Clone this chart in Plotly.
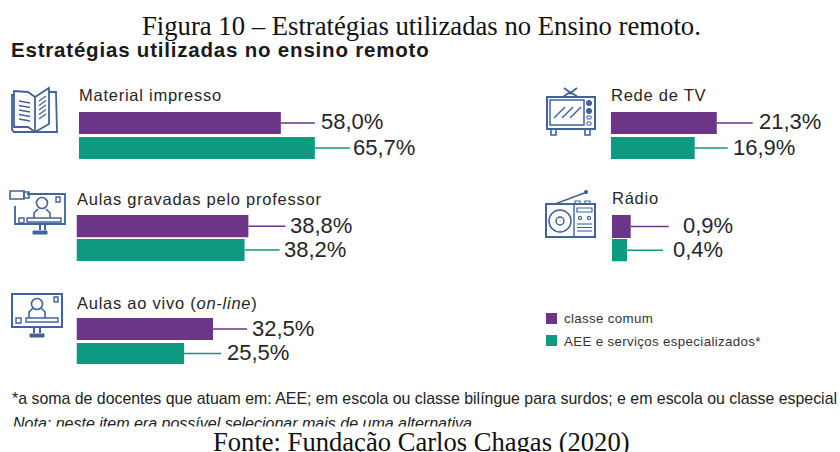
import plotly.graph_objects as go

W, H = 840, 452

# Data
categories = ["Material impresso", "Aulas gravadas pelo professor", "Aulas ao vivo (<i>on-line</i>)", "Rede de TV", "Rádio"]
classe_comum = [58.0, 38.8, 32.5, 21.3, 0.9]
aee = [65.7, 38.2, 25.5, 16.9, 0.4]
series_names = ["classe comum", "AEE e serviços especializados*"]

PURPLE = "#6C3587"
TEAL = "#0E9A80"
ICON = "#41629A"
INK = "#262626"
SANS = "Liberation Sans"
SERIF = "Liberation Serif"

# The source draws each bar to its own scale, so each bar gets its own axis:
# panel layout = left edge, label y, top of purple bar, top of teal bar, bar heights
panels = [
    dict(left=79, label_y=95, tops=(112, 137), heights=(22, 22)),
    dict(left=76.5, label_y=199, tops=(215, 239), heights=(22.5, 22)),
    dict(left=76.5, label_y=303, tops=(318, 343), heights=(22, 21)),
    dict(left=610.7, label_y=95, tops=(112, 137), heights=(22, 22)),
    dict(left=612, label_y=198, tops=(215, 239), heights=(23, 22.5)),
]
# px per percentage point for (purple, teal) in every panel
scales = [(3.48, 3.59), (4.43, 4.40), (4.20, 4.22), (4.98, 4.97), (20.8, 37.5)]
# leader length and gap to the value label, in px
leaders = [((34, 6), (35, 3)), ((37, 5), (35, 4)), ((34, 5), (37, 6)), ((36, 6), (33, 5)), ((38, 14), (36, 10))]


def px(x):
    return x / W


def py(y):
    return 1 - y / H


shapes = []
annotations = []
traces = []


def text(x, y, s, size, family=SANS, color=INK, anchor="left", spacing=None):
    if spacing:
        s = f'<span style="letter-spacing:{spacing}px">{s}</span>'
    annotations.append(dict(x=px(x), y=py(y), xref="paper", yref="paper", text=s, showarrow=False,
                            xanchor=anchor, yanchor="middle", align=anchor, xshift=0, borderpad=0,
                            font=dict(family=family, size=size, color=color)))


def path(points, close=False, fill=None, width=1.6, color=ICON):
    d = "M" + " L".join(f"{px(x):.5f},{py(y):.5f}" for x, y in points) + (" Z" if close else "")
    shapes.append(dict(type="path", path=d, xref="paper", yref="paper", fillcolor=fill or "rgba(0,0,0,0)",
                       line=dict(color=color, width=width)))


def rect(x0, y0, x1, y1, fill=None, width=1.6, color=ICON):
    path([(x0, y0), (x1, y0), (x1, y1), (x0, y1)], True, fill, width, color)


def circle(cx, cy, r, fill=None, width=1.6):
    shapes.append(dict(type="circle", xref="paper", yref="paper", x0=px(cx - r), x1=px(cx + r),
                       y0=py(cy + r), y1=py(cy - r), fillcolor=fill or "rgba(0,0,0,0)",
                       line=dict(color=ICON, width=width)))


# Bars, leaders and value labels
n = 0
axes = {}
for i, (cat, p) in enumerate(zip(categories, panels)):
    text(p["left"] - 1, p["label_y"], cat, 16.5, spacing=0.75)
    span = 200 if p["left"] > 500 else 300
    for j, (vals, color) in enumerate([(classe_comum, PURPLE), (aee, TEAL)]):
        n += 1
        value = vals[i]
        scale = scales[i][j]
        suffix = "" if n == 1 else str(n)
        xname, yname = f"x{suffix}", f"y{suffix}"
        axes[f"xaxis{suffix}"] = dict(domain=[px(p["left"]), px(p["left"] + span)], range=[0, span / scale],
                                      visible=False, fixedrange=True, anchor=yname)
        axes[f"yaxis{suffix}"] = dict(domain=[py(p["tops"][j] + p["heights"][j]), py(p["tops"][j])],
                                      visible=False, fixedrange=True, anchor=xname)
        traces.append(go.Bar(x=[value], y=[cat], orientation="h", xaxis=xname, yaxis=yname, width=1,
                             marker=dict(color=color, line=dict(width=0)), name=series_names[j], showlegend=False))
        length, gap = leaders[i][j]
        shapes.append(dict(type="line", xref=xname, yref="paper", xsizemode="pixel", xanchor=value, x0=0, x1=length,
                           y0=py(p["tops"][j] + p["heights"][j] / 2), y1=py(p["tops"][j] + p["heights"][j] / 2),
                           line=dict(color=color, width=1.3)))
        annotations.append(dict(x=value, xref=xname, y=0.5, yref=f"{yname} domain", xshift=length + gap - 2, yshift=1,
                                text=f"{value:.1f}%".replace(".", ","), showarrow=False, xanchor="left",
                                yanchor="middle", font=dict(family=SANS, size=22, color=INK)))

# Book icon
path([(35, 97), (28, 92), (14, 91), (14, 127), (28, 127), (35, 132)], width=1.8)
path([(35, 97), (49, 88), (49, 124), (35, 132)], width=1.8)
path([(49, 92), (56, 92), (57, 132), (14, 132), (12, 130), (12, 95), (14, 95)], width=1.8)
path([(35, 97), (35, 132)], width=1.8)
for k in range(5):
    path([(19, 101 + k * 4.5), (30, 103 + k * 4.5)], width=1.3)
    path([(39, 101 + k * 4.5), (46, 96 + k * 4.5)], width=1.3)

# Monitor icon with camera (Aulas gravadas)
path([(27, 194), (65, 194), (65, 224), (15, 224), (15, 206)], width=1.8)
rect(10, 191, 24, 199, width=1.6)
rect(24, 192, 29, 198, width=1.6)
rect(56, 197, 60, 202, width=1.4)
circle(42, 203, 5.5)
path([(34, 218), (34, 213), (38, 209)], width=1.6)
path([(50, 218), (50, 213), (46, 209)], width=1.6)
rect(27, 218, 61, 222, width=1.4)
rect(19, 218, 24, 223, width=1.4)
path([(40, 224), (40, 230)], width=2)
path([(45, 224), (45, 230)], width=2)
rect(33, 231, 47, 234, ICON, 1)

# Monitor icon (Aulas ao vivo)
rect(12, 294, 62, 327, width=2)
rect(54, 297, 58, 302, width=1.4)
circle(37, 304, 5.5)
path([(29, 318), (29, 312), (33, 308)], width=1.6)
path([(45, 318), (45, 312), (41, 308)], width=1.6)
rect(26, 318, 58, 322, width=1.4)
rect(16, 318, 21, 323, width=1.4)
path([(34, 327), (34, 333)], width=2)
path([(40, 327), (40, 333)], width=2)
rect(30, 334, 44, 337, ICON, 1)

# TV icon
path([(564, 88), (572, 94)], width=1.8)
path([(577, 88), (569, 94)], width=1.8)
path([(563, 97), (570, 92), (578, 97)], width=1.8)
rect(547, 97, 595, 129, width=2)
rect(550, 100, 584, 125, width=1.5)
for k in range(3):
    path([(554 + k * 8, 118), (565 + k * 8, 107)], width=1.4)
circle(589, 103, 2.6, ICON, 1)
circle(589, 111, 2.6, ICON, 1)
rect(587, 116, 591, 119, width=1)
rect(587, 122, 591, 125, width=1)
rect(551, 129, 556, 135, width=1.6)
rect(585, 129, 590, 135, width=1.6)

# Radio icon
path([(555, 204), (587, 192)], width=1.5)
circle(586, 192, 1.6, ICON, 1)
rect(546, 204, 595, 237, width=2)
rect(575, 201, 580, 204, width=1.2)
rect(585, 201, 590, 204, width=1.2)
circle(560, 221, 11, width=1.5)
circle(560, 221, 4, width=1.5)
path([(574, 204), (574, 237)], width=1.4)
rect(577, 208, 592, 212, width=1.2)
circle(580, 218, 1.6, width=1.2)
circle(589, 218, 1.6, width=1.2)
for k in range(3):
    path([(577, 224 + k * 3.5), (592, 224 + k * 3.5)], width=1.1)

# Legend
rect(546, 313, 557, 324, PURPLE, 0, PURPLE)
rect(546, 335, 557, 346, TEAL, 0, TEAL)
text(563, 318.5, series_names[0], 13.3, color="#333333", spacing=0.35)
text(563, 341, series_names[1], 13.3, color="#333333", spacing=0.35)

# Titles and notes
text(421.5, 26, "Figura 10 – Estratégias utilizadas no Ensino remoto.", 26.7, SERIF, "#111111", "center")
text(10, 49, "<b>Estratégias utilizadas no ensino remoto</b>", 20.5, color="#1a1a1a", spacing=0.8)
text(11, 398, "*a soma de docentes que atuam em: AEE; em escola ou classe bilíngue para surdos; e em escola ou classe especial",
     15.9, color="#222222")
text(12, 423, "<i>Nota: neste item era possível selecionar mais de uma alternativa.</i>", 16, color="#222222")
# White band over the bottom of the note, which is cut off in the source
annotations.append(dict(x=0, y=0, xref="paper", yref="paper", xanchor="left", yanchor="bottom", width=W, height=24,
                        bgcolor="white", borderpad=0, showarrow=False, text=" ", font=dict(size=10)))
text(421.5, 442, "Fonte: Fundação Carlos Chagas (2020)", 26.6, SERIF, "#111111", "center")

fig = go.Figure(traces)
fig.update_layout(width=W, height=H, margin=dict(l=0, r=0, t=0, b=0), paper_bgcolor="white", plot_bgcolor="white",
                  showlegend=False, shapes=shapes, annotations=annotations, **axes)
# Drop the default page margin so the 840x452 figure fills the window
fig.write_html("out.html", config=dict(displayModeBar=False), post_script="document.body.style.margin='0';")
